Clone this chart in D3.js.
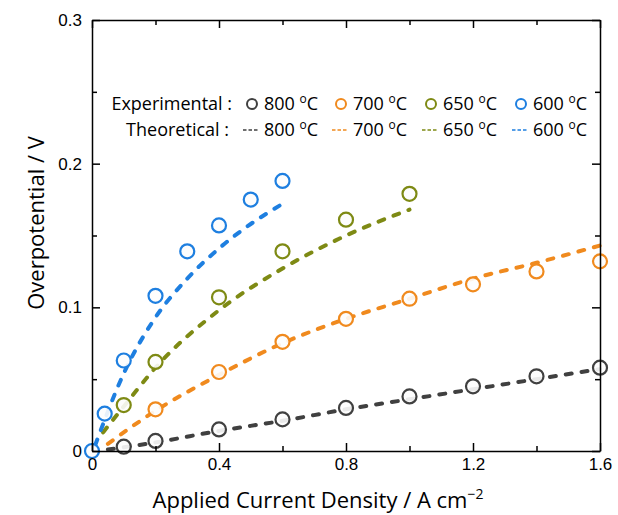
<!DOCTYPE html>
<html>
<head>
<meta charset="utf-8">
<script src="https://cdn.jsdelivr.net/npm/d3@7"></script>
<style>
  html, body { margin: 0; padding: 0; background: #fff; }
  svg { display: block; }
</style>
</head>
<body>
<svg id="chart" width="618" height="515"></svg>
<script>
// Temperatures (legend labels) and colours
const temps = ["800", "700", "650", "600"];
const colors = ["#404040", "#f08a1e", "#7e8a14", "#1e7fe0"];

// Experimental overpotential (V) vs current density (A cm^-2)
const expX800 = [0.1, 0.2, 0.4, 0.6, 0.8, 1.0, 1.2, 1.4, 1.6];
const exp800  = [0.003, 0.007, 0.015, 0.022, 0.030, 0.038, 0.045, 0.052, 0.058];
const expX700 = [0.2, 0.4, 0.6, 0.8, 1.0, 1.2, 1.4, 1.6];
const exp700  = [0.029, 0.055, 0.076, 0.092, 0.106, 0.116, 0.125, 0.132];
const expX650 = [0.1, 0.2, 0.4, 0.6, 0.8, 1.0];
const exp650  = [0.032, 0.062, 0.107, 0.139, 0.161, 0.179];
const expX600 = [0, 0.04, 0.1, 0.2, 0.3, 0.4, 0.5, 0.6];
const exp600  = [0, 0.026, 0.063, 0.108, 0.139, 0.157, 0.175, 0.188];

// Theoretical curves
const thX800 = [0.05, 0.2, 0.4, 0.6, 0.8, 1.0, 1.2, 1.4, 1.6];
const th800  = [0.001, 0.006, 0.014, 0.021, 0.029, 0.036, 0.043, 0.050, 0.057];
const thX700 = [0.05, 0.2, 0.4, 0.6, 0.8, 1.0, 1.2, 1.4, 1.6];
const th700  = [0.005, 0.028, 0.053, 0.075, 0.092, 0.106, 0.120, 0.131, 0.143];
const thX650 = [0.035, 0.1, 0.2, 0.4, 0.6, 0.8, 1.0];
const th650  = [0.013, 0.031, 0.058, 0.098, 0.127, 0.150, 0.168];
const thX600 = [0.01, 0.1, 0.2, 0.3, 0.4, 0.5, 0.6];
const th600  = [0.004, 0.054, 0.093, 0.120, 0.141, 0.158, 0.172];

// Axis ticks
const xMajor = [0, 0.4, 0.8, 1.2, 1.6];
const xMinor = [0.2, 0.6, 1.0, 1.4];
const yMajor = [0, 0.1, 0.2, 0.3];
const yMinor = [0.05, 0.15, 0.25];

const expSets = [[expX800, exp800], [expX700, exp700], [expX650, exp650], [expX600, exp600]];
const thSets  = [[thX800, th800], [thX700, th700], [thX650, th650], [thX600, th600]];

const svg = d3.select("#chart");
const x = d3.scaleLinear().domain([0, 1.6]).range([92, 600]);
const y = d3.scaleLinear().domain([0, 0.3]).range([451, 20]);

const tickFont = "'Liberation Sans', Arial, sans-serif";
const textFont = "'Open Sans', Lato, sans-serif";

// Theoretical dashed curves
const line = d3.line().x(d => x(d[0])).y(d => y(d[1])).curve(d3.curveMonotoneX);
thSets.forEach(([xs, ys], i) => {
  svg.append("path")
    .datum(xs.map((v, k) => [v, ys[k]]))
    .attr("d", line)
    .attr("fill", "none")
    .attr("stroke", colors[i])
    .attr("stroke-width", 4)
    .attr("stroke-linecap", "round")
    .attr("stroke-dasharray", "6,10");
});

// Experimental open circles
const plot = svg.append("g");
expSets.forEach(([xs, ys], i) => {
  plot.selectAll(null)
    .data(xs.map((v, k) => [v, ys[k]]))
    .join("circle")
    .attr("cx", d => x(d[0]))
    .attr("cy", d => y(d[1]))
    .attr("r", 7)
    .attr("fill", "#fdfdfd")
    .attr("fill-opacity", 0.9)
    .attr("stroke", colors[i])
    .attr("stroke-width", 2.2);
});

// Frame with inward ticks on all four sides
function styleAxis(g) {
  g.selectAll(".domain").attr("stroke", "#000").attr("stroke-width", 1.5);
  g.selectAll(".tick line").attr("stroke", "#000").attr("stroke-width", 1.5);
  g.selectAll("text").attr("font-family", tickFont).attr("font-size", 17).attr("fill", "#000");
}
function axisPair(axisFn, scale, transform, major, minor, showLabels, pad) {
  const gMaj = svg.append("g").attr("transform", transform)
    .call(axisFn(scale).tickValues(major).tickSizeInner(-8).tickSizeOuter(0)
      .tickPadding(pad).tickFormat(showLabels ? d3.format("") : () => ""));
  styleAxis(gMaj);
  const gMin = svg.append("g").attr("transform", transform)
    .call(axisFn(scale).tickValues(minor).tickSizeInner(-5).tickSizeOuter(0).tickFormat(() => ""));
  styleAxis(gMin);
  gMin.select(".domain").remove();
  return gMaj;
}
axisPair(d3.axisBottom, x, "translate(0,451)", xMajor, xMinor, true, 7);
axisPair(d3.axisTop, x, "translate(0,20)", xMajor, xMinor, false, 0);
axisPair(d3.axisLeft, y, "translate(92,0)", yMajor, yMinor, true, 10);
axisPair(d3.axisRight, y, "translate(600,0)", yMajor, yMinor, false, 0);

// Axis titles
svg.append("text")
  .attr("x", 318).attr("y", 508)
  .attr("text-anchor", "middle")
  .attr("font-family", textFont).attr("font-size", 22).attr("fill", "#000")
  .text("Applied Current Density / A cm")
  .append("tspan").attr("dy", -9).attr("font-size", 14).text("\u22122");

svg.append("text")
  .attr("transform", "translate(44,223) rotate(-90)")
  .attr("text-anchor", "middle")
  .attr("font-family", textFont).attr("font-size", 22).attr("fill", "#000")
  .text("Overpotential / V");

// Legend
const leg = svg.append("g").attr("font-family", textFont).attr("font-size", 18).attr("fill", "#000");
const rowY = [110, 136];
leg.append("text").attr("x", 232).attr("y", rowY[0]).attr("text-anchor", "end").text("Experimental :");
leg.append("text").attr("x", 229).attr("y", rowY[1]).attr("text-anchor", "end").text("Theoretical :");
const itemX = [252, 341, 431, 521];
function degLabel(sel, tx, ty, t) {
  const txt = sel.append("text").attr("x", tx).attr("y", ty);
  txt.append("tspan").text(t + " ");
  txt.append("tspan").attr("dy", -7).attr("font-size", 12).text("o");
  txt.append("tspan").attr("dy", 7).text("C");
}
temps.forEach((t, i) => {
  leg.append("circle")
    .attr("cx", itemX[i]).attr("cy", rowY[0] - 6).attr("r", 5)
    .attr("fill", "#fff").attr("stroke", colors[i]).attr("stroke-width", 2);
  degLabel(leg, itemX[i] + 12, rowY[0], t);
  leg.append("line")
    .attr("x1", itemX[i] - 9).attr("x2", itemX[i] + 7)
    .attr("y1", rowY[1] - 6).attr("y2", rowY[1] - 6)
    .attr("stroke", colors[i]).attr("stroke-width", 1.6)
    .attr("stroke-dasharray", "3.5,2");
  degLabel(leg, itemX[i] + 12, rowY[1], t);
});
</script>
</body>
</html>
